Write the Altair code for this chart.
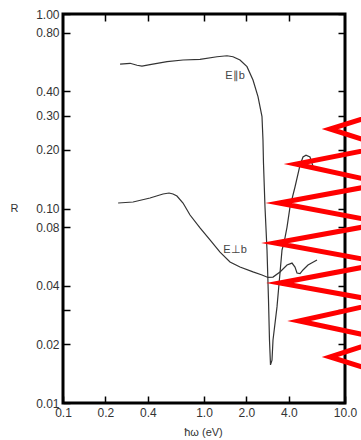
import altair as alt
import pandas as pd

# E || b reflectance curve (photon energy in eV, reflectance R)
par_x = [0.254, 0.299, 0.335, 0.363, 0.414, 0.547, 0.710, 0.937, 1.236, 1.456,
         1.606, 1.800, 2.018, 2.226, 2.415, 2.578, 2.620, 2.642, 2.707, 2.798,
         2.867, 2.914, 2.962, 3.036, 3.086, 3.294, 3.459, 3.575, 3.694, 3.880,
         4.074, 4.419, 4.797, 5.036, 5.289, 5.646, 5.930]
par_y = [0.553, 0.558, 0.545, 0.540, 0.549, 0.569, 0.580, 0.585, 0.603, 0.610,
         0.603, 0.580, 0.536, 0.458, 0.376, 0.297, 0.225, 0.171, 0.102, 0.0612,
         0.0339, 0.0211, 0.0157, 0.0166, 0.0211, 0.0312, 0.0466, 0.0612, 0.0665, 0.0803,
         0.102, 0.129, 0.167, 0.184, 0.188, 0.184, 0.165]

# E perp b reflectance curve
perp_x = [0.246, 0.314, 0.414, 0.512, 0.565, 0.603, 0.643, 0.710, 0.796, 0.937,
          1.103, 1.299, 1.529, 1.800, 2.226, 2.578, 2.844, 3.086, 3.459, 3.880,
          4.209, 4.419, 4.566, 4.797, 5.036, 5.465, 6.330]
perp_y = [0.1067, 0.1080, 0.1132, 0.1187, 0.1201, 0.1187, 0.1159, 0.1067, 0.0926, 0.0794,
          0.0689, 0.0597, 0.0531, 0.0500, 0.0472, 0.0455, 0.0442, 0.0444, 0.0472, 0.0512,
          0.0524, 0.0500, 0.0466, 0.0463, 0.0483, 0.0512, 0.0543]

# red zig-zag overlay (in data units)
zig_x = [19.2, 7.83, 19.2, 4.49, 19.2, 3.40, 19.2, 3.19, 19.2, 3.45, 19.2, 4.72, 19.2, 7.83, 19.2]
zig_y = [0.3133, 0.2563, 0.2084, 0.1693, 0.1345, 0.1067, 0.0842, 0.0665, 0.0524, 0.0414,
         0.0331, 0.0264, 0.0213, 0.01724, 0.0141]

# curve labels
label_text = ["E\u2225b", "E\u22a5b"]
label_x = [1.66, 1.66]
label_y = [0.48, 0.0612]

# tick values
x_ticks = [0.1, 0.2, 0.4, 1.0, 2.0, 4.0, 10.0]
x_ticks_top = [0.2, 0.4, 1.0, 2.0, 4.0]
y_ticks = [0.01, 0.02, 0.03, 0.04, 0.08, 0.1, 0.2, 0.3, 0.4, 0.8, 1.0]

curves = pd.concat([
    pd.DataFrame({"x": par_x, "y": par_y, "series": "par", "i": range(len(par_x))}),
    pd.DataFrame({"x": perp_x, "y": perp_y, "series": "perp", "i": range(len(perp_x))}),
])
zig = pd.DataFrame({"x": zig_x, "y": zig_y, "i": range(len(zig_x))})
labels = pd.DataFrame({"t": label_text, "x": label_x, "y": label_y})

FONT = "Liberation Sans"
xs = alt.Scale(type="log", domain=[0.1, 10])
ys = alt.Scale(type="log", domain=[0.01, 1])

common = dict(domain=False, grid=False, tickColor="black", tickWidth=1.5,
              tickSize=7, offset=-7, labelFont=FONT, labelFontSize=12,
              labelColor="#333", labelOverlap=False, labelFlush=False,
              labelPadding=4, titleFont=FONT, titleFontSize=11,
              titleFontWeight="normal", titleColor="#333")

lines = alt.Chart(curves).mark_line(color="#333", strokeWidth=1.2).encode(
    x=alt.X("x:Q", scale=xs, axis=alt.Axis(
        values=x_ticks, format=".1f", title="\u0127\u03c9 (eV)",
        titleX=140, titleY=36, titleAlign="center", titleBaseline="middle", **common)),
    y=alt.Y("y:Q", scale=ys, axis=alt.Axis(
        values=y_ticks,
        labelExpr="abs(datum.value - 0.03) < 0.001 ? '' : format(datum.value, '.2f')",
        title="R", titleAngle=0, titleX=-56, titleY=194.5,
        titleAlign="center", titleBaseline="middle", **common)),
    detail="series:N",
    order="i:Q",
)

text = alt.Chart(labels).mark_text(font=FONT, fontSize=11, color="#444").encode(
    x=alt.X("x:Q", scale=xs, axis=None),
    y=alt.Y("y:Q", scale=ys, axis=None),
    text="t:N",
)

common2 = dict(common)
common2["labels"] = False
zz = alt.Chart(zig).mark_line(color="#ff0000", strokeWidth=5, clip=False,
                              strokeJoin="miter", strokeMiterLimit=10).encode(
    x=alt.X("x:Q", scale=xs, axis=alt.Axis(values=x_ticks_top, orient="top", title=None, **common2)),
    y=alt.Y("y:Q", scale=ys, axis=alt.Axis(values=y_ticks, orient="right", title=None, **common2)),
    order="i:Q",
)

chart = alt.layer(lines, text, zz).resolve_axis(
    x="independent", y="independent"
).properties(
    width=282, height=389,
    padding={"left": 63, "top": 14, "right": 16, "bottom": 37},
    autosize=alt.AutoSizeParams(type="none"),
    background="white",
).configure_view(stroke="black", strokeWidth=3)

chart.save("out.html", embed_options={"renderer": "svg", "actions": False})
